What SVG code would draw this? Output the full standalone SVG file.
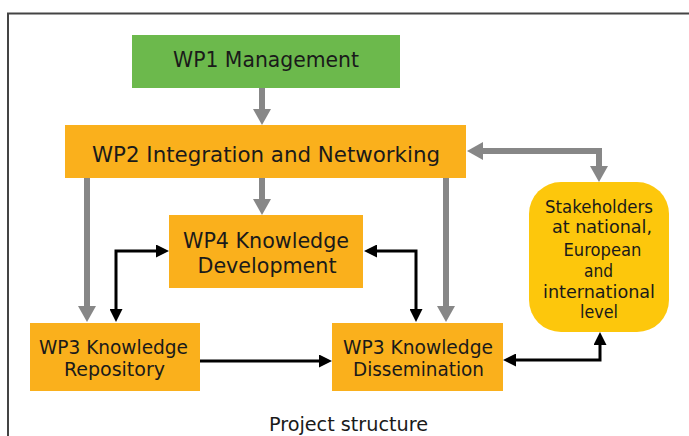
<svg xmlns="http://www.w3.org/2000/svg" width="689" height="436" viewBox="0 0 689 436">
  <style>
    .box { fill: #FAB01C; }
    .wp1 { fill: #6CB94C; }
    .stake { fill: #FDC70C; }
    text { font-family: "DejaVu Sans Condensed", "Liberation Sans Narrow", "Liberation Sans", sans-serif; fill: #1a1a1a; text-anchor: middle; }
    .t22 { font-size: 22px; }
    .t20 { font-size: 20px; }
    .t19 { font-size: 19px; }
    .t18 { font-size: 18px; }
    .gray { fill: none; stroke: #878787; stroke-width: 6; }
    .black { fill: none; stroke: #000; stroke-width: 3; }
  </style>
  <defs>
    <marker id="headGray" markerUnits="userSpaceOnUse" markerWidth="16" markerHeight="18" refX="0" refY="9" orient="auto-start-reverse" viewBox="0 0 16 18">
      <path d="M0,0 L16,9 L0,18 z" fill="#878787"/>
    </marker>
    <marker id="headBlack" markerUnits="userSpaceOnUse" markerWidth="13" markerHeight="13" refX="0" refY="6.5" orient="auto-start-reverse" viewBox="0 0 13 13">
      <path d="M0,0 L13,6.5 L0,13 z" fill="#000"/>
    </marker>
  </defs>

  <!-- frame -->
  <rect x="8" y="13.5" width="700" height="440" fill="#fff" stroke="#444" stroke-width="2"/>

  <!-- connectors -->
  <g id="connectors">
    <path class="gray" d="M262 88 V109" marker-end="url(#headGray)"/>
    <path class="gray" d="M262 178 V199" marker-end="url(#headGray)"/>
    <path class="gray" d="M87 178 V306" marker-end="url(#headGray)"/>
    <path class="gray" d="M446 178 V306" marker-end="url(#headGray)"/>
    <path class="gray" d="M483 151 H599 V166" marker-start="url(#headGray)" marker-end="url(#headGray)"/>
    <path class="black" d="M116 309 V251 H156" marker-start="url(#headBlack)" marker-end="url(#headBlack)"/>
    <path class="black" d="M377 251 H416 V309" marker-start="url(#headBlack)" marker-end="url(#headBlack)"/>
    <path class="black" d="M200 361 H319" marker-end="url(#headBlack)"/>
    <path class="black" d="M516 360 H600 V345" marker-start="url(#headBlack)" marker-end="url(#headBlack)"/>
  </g>

  <g id="wp1">
    <rect class="wp1" x="132" y="35" width="268" height="53"/>
    <text class="t22" x="266" y="67" textLength="186" lengthAdjust="spacingAndGlyphs">WP1 Management</text>
  </g>

  <g id="wp2">
    <rect class="box" x="65" y="125" width="401" height="53"/>
    <text class="t22" x="266" y="162" textLength="348" lengthAdjust="spacingAndGlyphs">WP2 Integration and Networking</text>
  </g>

  <g id="wp4">
    <rect class="box" x="169" y="215" width="194" height="73"/>
    <text class="t22" x="266" y="248" textLength="166" lengthAdjust="spacingAndGlyphs">WP4 Knowledge</text>
    <text class="t22" x="267" y="273" textLength="139" lengthAdjust="spacingAndGlyphs">Development</text>
  </g>

  <g id="wp3-repository">
    <rect class="box" x="30" y="323" width="170" height="68"/>
    <text class="t19" x="113.5" y="354" textLength="149" lengthAdjust="spacingAndGlyphs">WP3 Knowledge</text>
    <text class="t19" x="114.5" y="376" textLength="101" lengthAdjust="spacingAndGlyphs">Repository</text>
  </g>

  <g id="wp3-dissemination">
    <rect class="box" x="332" y="323" width="171" height="68"/>
    <text class="t19" x="418" y="354" textLength="150" lengthAdjust="spacingAndGlyphs">WP3 Knowledge</text>
    <text class="t19" x="418.5" y="376" textLength="131" lengthAdjust="spacingAndGlyphs">Dissemination</text>
  </g>

  <g id="stakeholders">
    <rect class="stake" x="529" y="182" width="140" height="150" rx="32" ry="32"/>
    <text class="t18" x="599" y="213" textLength="108" lengthAdjust="spacingAndGlyphs">Stakeholders</text>
    <text class="t18" x="602" y="233" textLength="100" lengthAdjust="spacingAndGlyphs">at national,</text>
    <text class="t18" x="602.5" y="256" textLength="78" lengthAdjust="spacingAndGlyphs">European</text>
    <text class="t18" x="598.5" y="277" textLength="29" lengthAdjust="spacingAndGlyphs">and</text>
    <text class="t18" x="599" y="298" textLength="112" lengthAdjust="spacingAndGlyphs">international</text>
    <text class="t18" x="599" y="318" textLength="38" lengthAdjust="spacingAndGlyphs">level</text>
  </g>

  <text class="t20" x="348.5" y="431" textLength="159" lengthAdjust="spacingAndGlyphs">Project structure</text>
</svg>
